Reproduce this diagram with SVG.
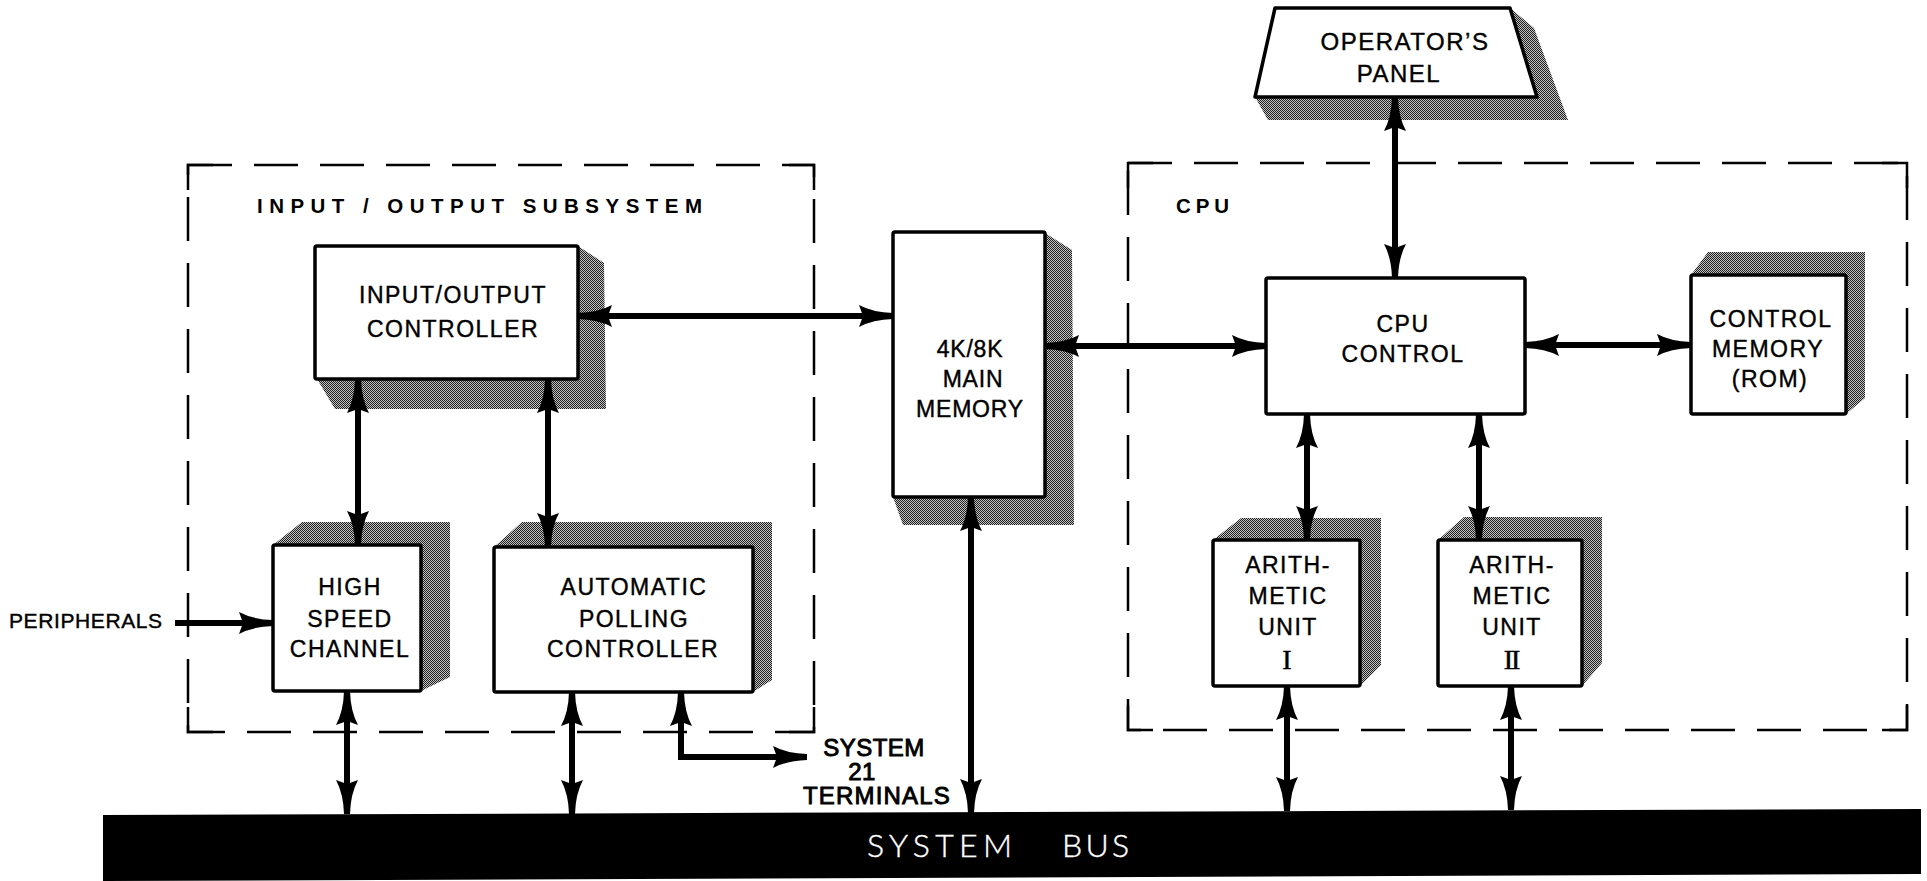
<svg xmlns="http://www.w3.org/2000/svg" width="1927" height="881" viewBox="0 0 1927 881">
<defs>
<pattern id="dither" width="2" height="2" patternUnits="userSpaceOnUse">
<rect width="2" height="2" fill="#c4c4c4"/>
<rect width="1" height="1" fill="#1e1e1e"/>
<rect x="1" y="1" width="1" height="1" fill="#1e1e1e"/>
</pattern>
<marker id="ah" viewBox="-36 -12 37 24" refX="0" refY="0" markerWidth="37" markerHeight="24" markerUnits="userSpaceOnUse" orient="auto-start-reverse">
<path d="M0,-3 L0,3 Q-20,3.5 -34,11 L-30,0 L-34,-11 Q-20,-3.5 0,-3 Z" fill="#000"/>
</marker>
<style>
.box{fill:#fff;stroke:#000;stroke-width:3.5;stroke-linejoin:round}
.shadow{fill:url(#dither);stroke:none}
.lbl{font-family:"Liberation Sans",Arial,sans-serif;font-size:23px;letter-spacing:1.5px;text-anchor:middle;fill:#000;stroke:#000;stroke-width:0.4}
.roman{font-family:"Liberation Serif","Times New Roman",serif;font-size:28px;text-anchor:middle;fill:#000;stroke:#000;stroke-width:0.5}
.grp{font-family:"Liberation Sans",Arial,sans-serif;font-size:20.5px;font-weight:bold;fill:#000}
.dash{fill:none;stroke:#000;stroke-width:2.5;stroke-dasharray:44 22}
.corner{fill:none;stroke:#000;stroke-width:2.5}
.conn{fill:none;stroke:#000;stroke-width:6;stroke-linecap:butt;stroke-linejoin:miter}
.bus{font-family:Lato,"Open Sans","Liberation Sans",sans-serif;font-weight:300;font-size:32px;fill:#fff;stroke:#fff;stroke-width:0.4}
</style>
</defs>
<rect width="1927" height="881" fill="#fff"/>

<g id="io-subsystem">
<rect class="dash" x="188" y="165" width="626" height="567"/>
<path class="corner" d="M188,190 V165 H213 M789,165 H814 V190 M188,707 V732 H213 M814,707 V732 H789"/>
<text class="grp" x="257" y="213" textLength="445" lengthAdjust="spacing">INPUT / OUTPUT SUBSYSTEM</text>
</g>

<g id="cpu-subsystem">
<rect class="dash" x="1128" y="163" width="779" height="567"/>
<path class="corner" d="M1128,188 V163 H1153 M1882,163 H1907 V188 M1128,705 V730 H1153 M1907,705 V730 H1882"/>
<text class="grp" x="1176" y="213" textLength="53" lengthAdjust="spacing">CPU</text>
</g>

<g id="io-controller">
<polygon class="shadow" points="578,246 604,263 606,409 335,409 317,379"/>
<rect class="box" x="315" y="246" width="263" height="133" rx="2"/>
<text class="lbl" x="453" y="303">INPUT/OUTPUT</text>
<text class="lbl" x="453" y="337">CONTROLLER</text>
</g>

<g id="high-speed-channel">
<polygon class="shadow" points="273,545 302,522 450,522 450,677 421,691"/>
<rect class="box" x="273" y="545" width="148" height="146" rx="2"/>
<text class="lbl" x="350" y="595">HIGH</text>
<text class="lbl" x="350" y="627">SPEED</text>
<text class="lbl" x="350" y="657">CHANNEL</text>
</g>

<g id="automatic-polling-controller">
<polygon class="shadow" points="494,547 522,522 772,522 772,680 753,692"/>
<rect class="box" x="494" y="547" width="259" height="145" rx="2"/>
<text class="lbl" x="634" y="595">AUTOMATIC</text>
<text class="lbl" x="634" y="627">POLLING</text>
<text class="lbl" x="633" y="657">CONTROLLER</text>
</g>

<g id="main-memory">
<polygon class="shadow" points="1045,233 1072,250 1074,525 903,525 893,497"/>
<rect class="box" x="893" y="232" width="152" height="265" rx="2"/>
<text class="lbl" x="970" y="357" style="letter-spacing:0.8px">4K/8K</text>
<text class="lbl" x="973" y="387" style="letter-spacing:0.8px">MAIN</text>
<text class="lbl" x="970" y="417" style="letter-spacing:0.8px">MEMORY</text>
</g>

<g id="operators-panel">
<polygon class="shadow" points="1510,8 1534,28 1568,120 1268,120 1255,97 1537,97"/>
<polygon class="box" points="1275,8 1510,8 1537,97 1255,97"/>
<text class="lbl" x="1405" y="50" style="font-size:24px">OPERATOR’S</text>
<text class="lbl" x="1399" y="82" style="font-size:24px">PANEL</text>
</g>

<g id="cpu-control">
<rect class="box" x="1266" y="278" width="259" height="136" rx="2"/>
<text class="lbl" x="1403" y="332">CPU</text>
<text class="lbl" x="1403" y="362">CONTROL</text>
</g>

<g id="control-memory">
<polygon class="shadow" points="1691,275 1708,252 1865,252 1865,398 1846,414"/>
<rect class="box" x="1691" y="275" width="155" height="139" rx="2"/>
<text class="lbl" x="1771" y="327">CONTROL</text>
<text class="lbl" x="1768" y="357">MEMORY</text>
<text class="lbl" x="1770" y="387">(ROM)</text>
</g>

<g id="arithmetic-unit-1">
<polygon class="shadow" points="1213,540 1241,518 1381,518 1381,665 1360,686"/>
<rect class="box" x="1213" y="540" width="147" height="146" rx="2"/>
<text class="lbl" x="1288" y="573">ARITH-</text>
<text class="lbl" x="1288" y="604">METIC</text>
<text class="lbl" x="1288" y="635">UNIT</text>
<text class="roman" x="1287" y="669">I</text>
</g>

<g id="arithmetic-unit-2">
<polygon class="shadow" points="1438,540 1464,517 1602,517 1602,663 1582,686"/>
<rect class="box" x="1438" y="540" width="144" height="146" rx="2"/>
<text class="lbl" x="1512" y="573">ARITH-</text>
<text class="lbl" x="1512" y="604">METIC</text>
<text class="lbl" x="1512" y="635">UNIT</text>
<text class="roman" x="1511" y="669" style="letter-spacing:-2px">II</text>
</g>

<g id="system-bus">
<polygon points="103,815 1921,809 1921,874 103,881" fill="#000"/>
<text class="bus" y="857"><tspan x="867" textLength="145" lengthAdjust="spacing">SYSTEM</tspan><tspan x="1062" textLength="67" lengthAdjust="spacing">BUS</tspan></text>
</g>

<g id="labels">
<text class="lbl" x="9" y="628" style="font-size:21px;letter-spacing:0.6px;text-anchor:start">PERIPHERALS</text>
<text class="lbl" x="874" y="756" style="font-size:24px;letter-spacing:0.5px;stroke-width:0.9">SYSTEM</text>
<text class="lbl" x="862" y="780" style="font-size:24px;letter-spacing:0.5px;stroke-width:0.9">21</text>
<text class="lbl" x="877" y="804" style="font-size:24px;letter-spacing:1.2px;stroke-width:0.9">TERMINALS</text>
</g>

<g id="connectors">
<path class="conn" d="M578,316 H893" marker-start="url(#ah)" marker-end="url(#ah)"/>
<path class="conn" d="M1045,346 H1266" marker-start="url(#ah)" marker-end="url(#ah)"/>
<path class="conn" d="M1525,345 H1691" marker-start="url(#ah)" marker-end="url(#ah)"/>
<path class="conn" d="M1395,97 V278" marker-start="url(#ah)" marker-end="url(#ah)"/>
<path class="conn" d="M358,379 V545" marker-start="url(#ah)" marker-end="url(#ah)"/>
<path class="conn" d="M548,379 V547" marker-start="url(#ah)" marker-end="url(#ah)"/>
<path class="conn" d="M347,691 V814" marker-start="url(#ah)" marker-end="url(#ah)"/>
<path class="conn" d="M572,692 V814" marker-start="url(#ah)" marker-end="url(#ah)"/>
<path class="conn" d="M681,692 V757 H807" marker-start="url(#ah)" marker-end="url(#ah)"/>
<path class="conn" d="M971,497 V813" marker-start="url(#ah)" marker-end="url(#ah)"/>
<path class="conn" d="M1307,414 V540" marker-start="url(#ah)" marker-end="url(#ah)"/>
<path class="conn" d="M1479,414 V540" marker-start="url(#ah)" marker-end="url(#ah)"/>
<path class="conn" d="M1287,686 V811" marker-start="url(#ah)" marker-end="url(#ah)"/>
<path class="conn" d="M1511,686 V810" marker-start="url(#ah)" marker-end="url(#ah)"/>
<path class="conn" d="M175,623 H273" marker-end="url(#ah)"/>
</g>
</svg>
